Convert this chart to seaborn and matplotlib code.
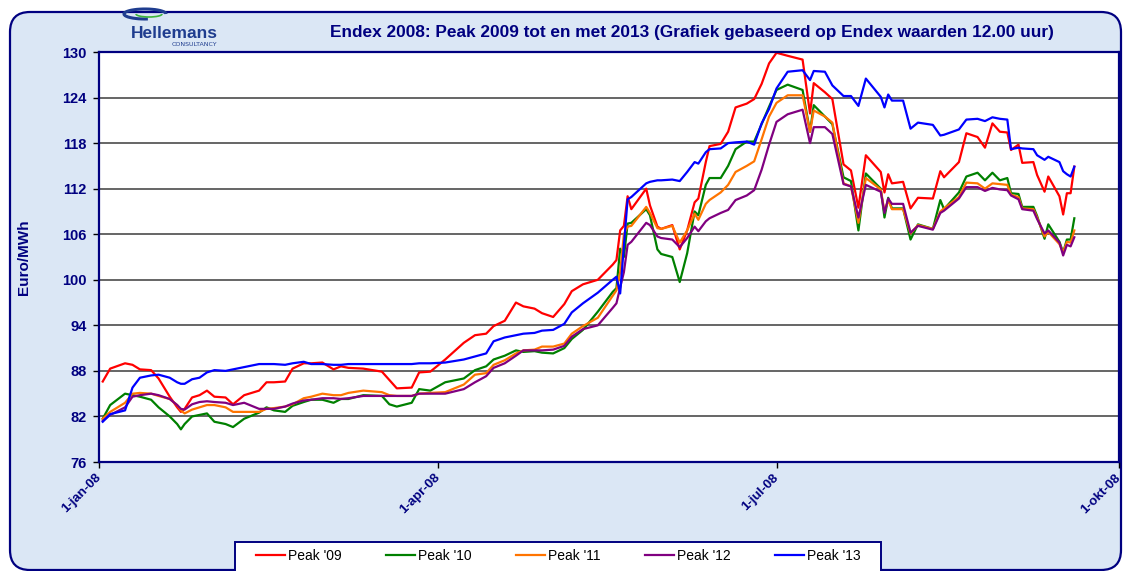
import numpy as np
import pandas as pd
import matplotlib
matplotlib.use("Agg")
import matplotlib.pyplot as plt
from matplotlib.patches import FancyBboxPatch, Arc, Rectangle
import seaborn as sns

# values (Endex peak, Euro/MWh, 12.00 uur)
dates = [
    '2008-01-02', '2008-01-04', '2008-01-08', '2008-01-10', '2008-01-12', '2008-01-15', '2008-01-17', '2008-01-20', '2008-01-22', '2008-01-23',
    '2008-01-24', '2008-01-26', '2008-01-28', '2008-01-30', '2008-02-01', '2008-02-04', '2008-02-06', '2008-02-09', '2008-02-13', '2008-02-15',
    '2008-02-17', '2008-02-20', '2008-02-22', '2008-02-25', '2008-02-27', '2008-03-01', '2008-03-04', '2008-03-06', '2008-03-08', '2008-03-12',
    '2008-03-17', '2008-03-19', '2008-03-21', '2008-03-25', '2008-03-27', '2008-03-30', '2008-04-03', '2008-04-08', '2008-04-11', '2008-04-14',
    '2008-04-16', '2008-04-19', '2008-04-22', '2008-04-24', '2008-04-27', '2008-04-29', '2008-05-02', '2008-05-05', '2008-05-07', '2008-05-10',
    '2008-05-14', '2008-05-18', '2008-05-19', '2008-05-20', '2008-05-21', '2008-05-22', '2008-05-23', '2008-05-27', '2008-05-28', '2008-05-30',
    '2008-05-31', '2008-06-03', '2008-06-05', '2008-06-07', '2008-06-09', '2008-06-10', '2008-06-12', '2008-06-13', '2008-06-16', '2008-06-18',
    '2008-06-20', '2008-06-23', '2008-06-25', '2008-06-27', '2008-06-29', '2008-07-01', '2008-07-04', '2008-07-08', '2008-07-10', '2008-07-11',
    '2008-07-14', '2008-07-16', '2008-07-19', '2008-07-21', '2008-07-23', '2008-07-25', '2008-07-29', '2008-07-30', '2008-07-31', '2008-08-01',
    '2008-08-04', '2008-08-06', '2008-08-08', '2008-08-12', '2008-08-14', '2008-08-15', '2008-08-19', '2008-08-21', '2008-08-24', '2008-08-26',
    '2008-08-28', '2008-08-30', '2008-09-01', '2008-09-02', '2008-09-04', '2008-09-05', '2008-09-08', '2008-09-09', '2008-09-11', '2008-09-12',
    '2008-09-15', '2008-09-16', '2008-09-17', '2008-09-18', '2008-09-19']

peak09 = [
    86.6, 88.3, 89.0, 88.8, 88.2, 88.1, 87.0, 84.6, 83.2, 82.6,
    83.0, 84.5, 84.8, 85.4, 84.6, 84.5, 83.6, 84.8, 85.4, 86.5,
    86.5, 86.6, 88.3, 89.0, 89.0, 89.1, 88.2, 88.6, 88.4, 88.3,
    87.9, 86.8, 85.7, 85.8, 87.8, 87.9, 89.5, 91.7, 92.7, 92.9,
    93.9, 94.6, 97.0, 96.5, 96.2, 95.6, 95.1, 96.8, 98.5, 99.4,
    100.0, 102.0, 102.6, 106.5, 107.1, 111.0, 109.3, 112.0, 109.8, 107.0,
    106.7, 107.2, 104.0, 106.5, 110.2, 110.7, 115.5, 117.6, 117.9, 119.5,
    122.7, 123.2, 123.8, 125.8, 128.5, 129.9, 129.5, 129.0, 121.9, 125.9,
    124.7, 123.8, 115.2, 114.4, 109.5, 116.4, 114.2, 111.5, 113.9, 112.7,
    112.9, 109.4, 110.8, 110.7, 114.3, 113.5, 115.5, 119.3, 118.8, 117.4,
    120.6, 119.5, 119.4, 117.1, 117.8, 115.4, 115.5, 113.8, 111.6, 113.6,
    111.0, 108.6, 111.4, 111.4, 114.9]

peak10 = [
    81.7, 83.5, 85.0, 84.8, 84.6, 84.2, 83.2, 82.0, 81.0, 80.3,
    81.0, 82.0, 82.2, 82.4, 81.3, 81.0, 80.6, 81.7, 82.5, 83.2,
    82.8, 82.6, 83.4, 83.9, 84.2, 84.2, 83.8, 84.3, 84.3, 84.8,
    84.7, 83.6, 83.3, 83.8, 85.6, 85.4, 86.5, 87.0, 88.1, 88.6,
    89.5, 90.0, 90.7, 90.5, 90.6, 90.4, 90.3, 91.0, 92.2, 93.4,
    95.8, 98.4, 98.9, 104.1, 103.0, 107.4, 107.5, 109.3, 108.5, 104.0,
    103.4, 103.0, 99.7, 103.5, 109.0, 108.5, 112.5, 113.4, 113.4, 115.0,
    117.2, 118.2, 118.2, 120.5, 122.8, 125.0, 125.7, 125.0, 119.5, 123.0,
    121.5, 120.5, 113.5, 113.0, 106.5, 114.0, 112.0, 108.2, 110.8, 109.4,
    109.4, 105.3, 107.3, 106.7, 110.5, 109.3, 111.5, 113.6, 114.1, 113.1,
    114.1, 113.1, 113.4, 111.4, 111.3, 109.6, 109.6, 108.4, 105.4, 107.3,
    105.0, 103.6, 105.3, 105.3, 108.1]

peak11 = [
    81.7, 82.6, 83.8, 85.0, 85.1, 85.0, 84.7, 84.3, 83.5, 82.8,
    82.4, 82.9, 83.2, 83.5, 83.5, 83.2, 82.6, 82.6, 82.6, 83.0,
    83.1, 83.3, 83.6, 84.4, 84.6, 85.0, 84.8, 84.8, 85.1, 85.4,
    85.2, 84.8, 84.7, 84.7, 85.0, 85.1, 85.2, 86.2, 87.5, 87.7,
    88.8, 89.4, 90.3, 90.7, 90.8, 91.2, 91.2, 91.6, 92.9, 93.9,
    95.0, 97.9, 98.6, 101.0, 106.0, 107.0, 107.1, 109.6, 108.8, 106.8,
    106.7, 107.1, 104.9, 106.5, 108.7, 107.9, 110.0, 110.5, 111.5, 112.5,
    114.2, 115.0, 115.6, 118.5, 121.5, 123.3, 124.3, 124.3, 119.5, 122.3,
    121.5, 120.7, 112.7, 112.3, 107.5, 113.4, 111.9, 109.0, 110.5, 109.3,
    109.3, 106.1, 107.2, 106.7, 109.0, 109.4, 110.9, 112.8, 112.7, 112.0,
    112.7, 112.6, 112.5, 111.2, 110.9, 109.4, 109.3, 108.2, 105.7, 106.3,
    104.7, 103.6, 105.0, 104.9, 106.5]

peak12 = [
    81.4, 82.2, 83.2, 84.6, 84.8, 85.0, 84.8, 84.3, 83.5, 83.0,
    82.9, 83.6, 83.9, 84.0, 83.9, 83.8, 83.5, 83.8, 83.0, 83.0,
    83.0, 83.3, 83.7, 84.1, 84.2, 84.4, 84.4, 84.3, 84.4, 84.7,
    84.7, 84.7, 84.7, 84.7, 85.0, 85.0, 85.0, 85.6, 86.5, 87.3,
    88.4, 89.0, 90.0, 90.7, 90.7, 90.7, 90.8, 91.3, 92.5, 93.5,
    94.0, 96.3, 96.9, 99.0, 101.0, 104.6, 105.0, 107.5, 107.2, 105.7,
    105.5, 105.3, 104.3, 105.5, 107.0, 106.4, 107.7, 108.1, 108.8, 109.2,
    110.5, 111.1, 111.8, 114.5, 117.8, 120.8, 121.8, 122.4, 118.0, 120.1,
    120.1, 119.2, 112.6, 112.3, 108.2, 112.5, 111.6, 108.8, 110.7, 110.0,
    110.0, 106.2, 107.1, 106.6, 108.8, 109.1, 110.7, 112.2, 112.2, 111.7,
    112.1, 111.9, 111.8, 111.1, 110.6, 109.3, 109.1, 108.0, 106.1, 106.5,
    104.9, 103.2, 104.6, 104.4, 105.6]

peak13 = [
    81.3, 82.3, 82.8, 85.8, 87.1, 87.4, 87.5, 87.1, 86.5, 86.3,
    86.3, 86.9, 87.1, 87.8, 88.1, 88.0, 88.2, 88.5, 88.9, 88.9,
    88.9, 88.8, 89.0, 89.2, 88.9, 88.9, 88.8, 88.8, 88.9, 88.9,
    88.9, 88.9, 88.9, 88.9, 89.0, 89.0, 89.1, 89.5, 89.9, 90.3,
    91.9, 92.4, 92.7, 92.9, 93.0, 93.3, 93.4, 94.2, 95.7, 96.9,
    98.3, 100.0, 100.4, 98.2, 104.5, 110.6, 110.9, 112.7, 112.9, 113.1,
    113.1, 113.2, 113.0, 114.2, 115.5, 115.3, 116.8, 117.2, 117.3, 118.0,
    118.1, 118.2, 117.8, 120.6, 122.5, 125.2, 127.4, 127.6, 126.3, 127.5,
    127.4, 125.6, 124.2, 124.2, 122.9, 126.5, 124.1, 122.7, 124.4, 123.6,
    123.6, 119.9, 120.7, 120.4, 119.0, 119.1, 119.8, 121.1, 121.2, 120.9,
    121.4, 121.2, 121.1, 117.2, 117.4, 117.3, 117.2, 116.4, 115.8, 116.2,
    115.5, 114.3, 113.9, 113.6, 114.9]

series_names = ["Peak '09", "Peak '10", "Peak '11", "Peak '12", "Peak '13"]
series_colors = ['#ff0000', '#008000', '#ff7400', '#800080', '#0000ff']
y_ticks = [76, 82, 88, 94, 100, 106, 112, 118, 124, 130]
x_tick_dates = ['2008-01-01', '2008-04-01', '2008-07-01', '2008-10-01']
x_tick_labels = ['1-jan-08', '1-apr-08', '1-jul-08', '1-okt-08']

navy = '#000080'

frames = []
for name, vals in zip(series_names, [peak09, peak10, peak11, peak12, peak13]):
    frames.append(pd.DataFrame({'datum': pd.to_datetime(dates), 'waarde': vals, 'serie': name}))
df = pd.concat(frames, ignore_index=True)

W, H = 1124, 571
fig = plt.figure(figsize=(W / 100, H / 100), dpi=100)
fig.patch.set_facecolor('white')

# rounded light blue panel, behind everything
panel = FancyBboxPatch((0.10, 0.01), 11.11, 5.58, boxstyle='round,pad=0,rounding_size=0.2',
                       transform=fig.dpi_scale_trans, facecolor='#dbe7f5', edgecolor=navy,
                       linewidth=1.6, zorder=-10)
fig.add_artist(panel)

ax = fig.add_axes([99 / W, 1 - 462 / H, (1119 - 99) / W, (462 - 52) / H])
ax.set_facecolor('white')

sns.lineplot(data=df, x='datum', y='waarde', hue='serie', palette=dict(zip(series_names, series_colors)),
             estimator=None, sort=False, linewidth=1.6, ax=ax)

ax.set_ylim(76, 130)
ax.set_xlim(pd.Timestamp('2008-01-01'), pd.Timestamp('2008-10-01'))
ax.set_yticks(y_ticks)
ax.set_yticklabels([str(t) for t in y_ticks], fontsize=10.5, fontweight='bold', color=navy, family='Liberation Sans')
ax.set_xticks(pd.to_datetime(x_tick_dates))
ax.set_xticklabels(x_tick_labels, rotation=45, ha='right', va='center', rotation_mode='anchor',
                   fontsize=9.5, fontweight='bold', color=navy, family='Liberation Sans')
ax.tick_params(axis='both', direction='out', length=4, width=1, color='black')
ax.tick_params(axis='y', pad=5)
ax.tick_params(axis='x', pad=6)

for t in y_ticks[1:-1]:
    ax.axhline(t, color='#3c3c3c', linewidth=1.1, zorder=0)

for s in ax.spines.values():
    s.set_color(navy)
    s.set_linewidth(1.6)

ax.set_xlabel('')
ax.set_ylabel('Euro/MWh', fontsize=11, fontweight='bold', color=navy, family='Liberation Sans', labelpad=22)

fig.text(692 / W, 1 - 32 / H,
         'Endex 2008: Peak 2009 tot en met 2013 (Grafiek gebaseerd op Endex waarden 12.00 uur)',
         ha='center', va='center', fontsize=12.4, fontweight='bold', color=navy, family='Liberation Sans')

# logo
fig.text(131 / W, 1 - 34 / H, 'Hellemans', ha='left', va='center', fontsize=12.5, fontweight='bold',
         color='#1f3d8f', family='Liberation Sans')
fig.text(172 / W, 1 - 44 / H, 'CONSULTANCY', ha='left', va='center', fontsize=4.5, color='#1f3d8f',
         family='DejaVu Sans')
fig.add_artist(Arc((1.45, 5.57), 0.42, 0.1, theta1=0, theta2=300, transform=fig.dpi_scale_trans,
                   color='#1f3d8f', linewidth=2.2))
fig.add_artist(Arc((1.49, 5.57), 0.26, 0.06, theta1=180, theta2=360, transform=fig.dpi_scale_trans,
                   color='#3cb43c', linewidth=1.2))

# legend box (runs off the bottom edge like the reference)
fig.add_artist(Rectangle((235 / W, 1 - 575 / H), (881 - 235) / W, (575 - 542) / H, transform=fig.transFigure,
                         facecolor='white', edgecolor=navy, linewidth=1.4, zorder=5))
handles, labels = ax.get_legend_handles_labels()
ax.get_legend().remove()
leg = fig.legend(handles, labels, ncol=5, loc='center', bbox_to_anchor=(558 / W, 1 - 556 / H),
                 frameon=False, handlelength=2.1, handletextpad=0.2, columnspacing=3.2,
                 prop={'family': 'Liberation Sans', 'size': 10})
leg.set_zorder(6)

fig.savefig('out.png', dpi=100, facecolor=fig.get_facecolor())
